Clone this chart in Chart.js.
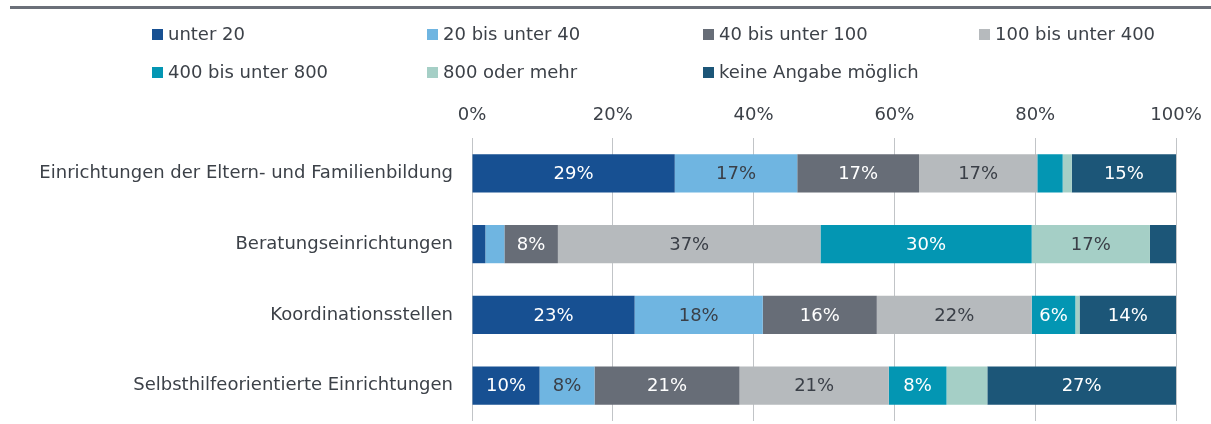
<!DOCTYPE html>
<html>
<head>
<meta charset="utf-8">
<script src="https://cdn.jsdelivr.net/npm/chart.js@4/dist/chart.umd.min.js"></script>
<style>
  html, body { margin: 0; padding: 0; background: #fff; }
  #wrap { position: relative; width: 1211px; height: 424px; overflow: hidden; font-family: "DejaVu Sans", sans-serif; }
  #topline { position: absolute; left: 10px; right: 0; top: 6px; height: 3px; background: #6b7079; }
  #legend { position: absolute; left: 0; top: 0; width: 1211px; height: 95px; z-index: 2; }
  .lg { position: absolute; font-size: 18px; color: #3c4148; white-space: nowrap; line-height: 22px; }
  .lg i { position: absolute; left: -16px; top: 6px; width: 11px; height: 11px; }
  #chart { position: absolute; left: 0; top: 0; }
</style>
</head>
<body>
<div id="wrap">
  <canvas id="chart" width="1211" height="424"></canvas>
  <div id="topline"></div>
  <div id="legend"></div>
</div>
<script>
/* ── data ── */
const categories = [
  'Einrichtungen der Eltern- und Familienbildung',
  'Beratungseinrichtungen',
  'Koordinationsstellen',
  'Selbsthilfeorientierte Einrichtungen',
];
const seriesNames = [
  'unter 20', '20 bis unter 40', '40 bis unter 100', '100 bis unter 400',
  '400 bis unter 800', '800 oder mehr', 'keine Angabe möglich',
];
// one array per size class, values in % per category row
const unter20       = [28.8, 1.9, 23.1, 9.6];
const bis40         = [17.4, 2.7, 18.2, 7.8];
const bis100        = [17.3, 7.6, 16.2, 20.6];
const bis400        = [16.8, 37.3, 22.0, 21.2];
const bis800        = [3.6, 30.0, 6.2, 8.2];
const ab800         = [1.3, 16.8, 0.6, 5.8];
const keineAngabe   = [14.8, 3.7, 13.7, 26.8];
const xTicks        = [0, 20, 40, 60, 80, 100];

const seriesValues = [unter20, bis40, bis100, bis400, bis800, ab800, keineAngabe];
const barColors  = ['#175092', '#6fb5e1', '#676d77', '#b6babd', '#0396b3', '#a5cfc6', '#1c5678'];
const textColors = ['#ffffff', '#3a3f47', '#ffffff', '#3a3f47', '#ffffff', '#3a3f47', '#ffffff'];

const FONT = '"DejaVu Sans", sans-serif';
const TXT  = '#3c4148';

/* ── legend (html, two rows of four columns) ── */
const legendCols = [168, 443, 719, 995];
const legendRows = [23, 61];
const legend = document.getElementById('legend');
seriesNames.forEach((name, i) => {
  const d = document.createElement('div');
  d.className = 'lg';
  d.style.left = legendCols[i % 4] + 'px';
  d.style.top  = legendRows[Math.floor(i / 4)] + 'px';
  d.innerHTML = `<i style="background:${barColors[i]}"></i>${name}`;
  legend.appendChild(d);
});

/* ── value labels inside the segments ── */
const segLabels = {
  id: 'segLabels',
  afterDatasetsDraw(chart) {
    const ctx = chart.ctx;
    ctx.save();
    ctx.font = '18px ' + FONT;
    ctx.textAlign = 'center';
    ctx.textBaseline = 'middle';
    chart.data.datasets.forEach((ds, di) => {
      chart.getDatasetMeta(di).data.forEach((bar, i) => {
        const v = ds.data[i];
        if (v < 6) return;
        const cx = (bar.x + bar.base) / 2;
        ctx.fillStyle = textColors[di];
        ctx.fillText(Math.round(v) + '%', cx, bar.y + 1);
      });
    });
    ctx.restore();
  }
};

new Chart(document.getElementById('chart'), {
  type: 'bar',
  data: {
    labels: categories,
    datasets: seriesValues.map((vals, i) => ({
      label: seriesNames[i],
      data: vals,
      backgroundColor: barColors[i],
      borderWidth: 0,
      barPercentage: 0.54,
      categoryPercentage: 1,
    })),
  },
  options: {
    indexAxis: 'y',
    responsive: false,
    animation: false,
    layout: { padding: { top: 0, right: 35, bottom: 3, left: 0 } },
    plugins: { legend: { display: false }, tooltip: { enabled: false } },
    scales: {
      x: {
        position: 'top',
        stacked: true,
        min: 0, max: 100,
        afterBuildTicks: s => { s.ticks = xTicks.map(v => ({ value: v })); },
        afterFit: s => { s.height = 138; s.paddingLeft = 0; s.paddingRight = 0; },
        grid: { color: '#c1c4c7', lineWidth: 1, drawTicks: false },
        border: { display: false },
        ticks: { color: TXT, font: { family: FONT, size: 18 }, padding: 12, callback: v => v + '%' },
      },
      y: {
        stacked: true,
        afterFit: s => { s.width = 472; s.paddingTop = 0; s.paddingBottom = 0; },
        grid: { display: false, drawTicks: false },
        border: { display: false },
        ticks: { color: TXT, font: { family: FONT, size: 18 }, padding: 19 },
      },
    },
  },
  plugins: [segLabels],
});
</script>
</body>
</html>
